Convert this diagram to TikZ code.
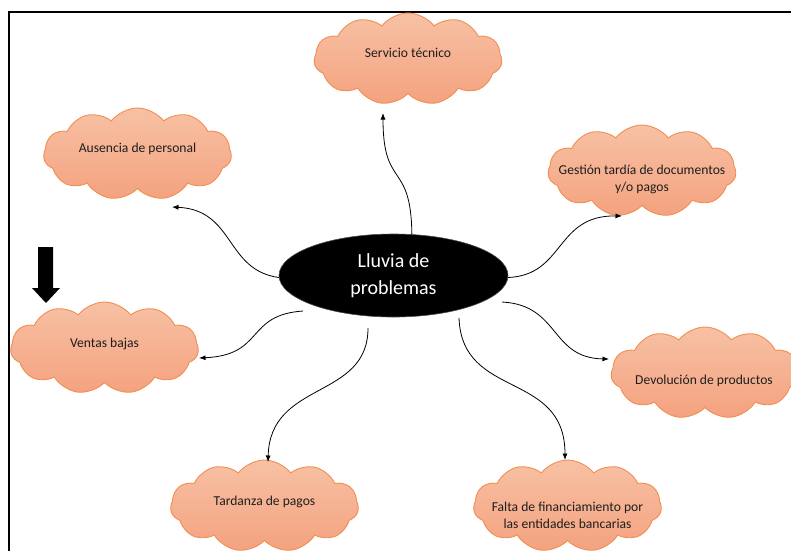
\documentclass[tikz,border=0pt]{standalone}
\usepackage{fontspec}
\setmainfont{Carlito}
\usetikzlibrary{shapes.symbols,shapes.geometric,arrows.meta}

\definecolor{puffTop}{HTML}{F7C1A4}
\definecolor{puffBot}{HTML}{F4A27F}
\definecolor{puffLine}{HTML}{F28E52}
\definecolor{labelInk}{HTML}{1E1E1E}

\tikzset{
  idea/.style={cloud, cloud puffs=11, cloud puff arc=105, aspect=2.1,
    minimum width=188pt, minimum height=92pt, inner sep=0pt,
    draw=puffLine, line width=0.9pt, top color=puffTop, bottom color=puffBot},
  ideatext/.style={font=\fontsize{13.6}{17}\selectfont, text=labelInk,
    align=center, inner sep=0pt},
  hub/.style={ellipse, fill=black, draw=black!70, line width=0.6pt,
    minimum width=229pt, minimum height=83pt, inner sep=0pt,
    text=white, align=center, font=\fontsize{20}{27}\selectfont},
  link/.style={line width=0.8pt, -{Latex[length=6.5pt,width=5pt]}},
}

\begin{document}
\begin{tikzpicture}[x=1pt,y=-1pt]
\useasboundingbox (0,0) rectangle (791,550);
\clip (0,0) rectangle (791,550);

% page frame
\draw[line width=1.4pt] (9,560) -- (9,12) -- (800,12);

% idea clouds
\node[idea] (srv) at (408,59) {};
\node[ideatext] (srvt) at (408,53) {Servicio técnico};

\node[idea] (aus) at (137.5,154) {};
\node[ideatext] (aust) at (137.5,149) {Ausencia de personal};

\node[idea] (ges) at (642,171) {};
\node[ideatext] (gest) at (642,179) {Gestión tardía de documentos\\y/o pagos};

\node[idea] (ven) at (104.5,348) {};
\node[ideatext] (vent) at (104.5,344) {Ventas bajas};

\node[idea] (dev) at (705,373) {};
\node[ideatext] (devt) at (704,381) {Devolución de productos};

\node[idea] (tar) at (264.5,506) {};
\node[ideatext] (tart) at (264.5,502) {Tardanza de pagos};

\node[idea] (fal) at (567.5,506) {};
\node[ideatext] (falt) at (567.5,515) {Falta de financiamiento por\\las entidades bancarias};

% central topic
\node[hub] (hub) at (393.5,275.5) {Lluvia de\\problemas};

% arrow tips and detached starts
\coordinate (tSrv) at (383,113);
\coordinate (tAus) at (172,207);
\coordinate (tGes) at (622,216);
\coordinate (tVen) at (199,358);
\coordinate (tTar) at (268,462);
\coordinate (tFal) at (565,460);
\coordinate (tDev) at (609,359);
\coordinate (sVen) at (303,311);
\coordinate (sTar) at (368,328);
\coordinate (sFal) at (459,318);
\coordinate (sDev) at (502,302);

% connectors
\draw[link] (hub.66) .. controls (411,160) and (383,190) .. (tSrv);
\draw[link] (hub.181) .. controls (225,270) and (235,210) .. (tAus);
\draw[link] (hub.359) .. controls (565,275) and (555,215) .. (tGes);
\draw[link] (sVen) .. controls (245,315) and (265,355) .. (tVen);
\draw[link] (sTar) .. controls (368,400) and (270,380) .. (tTar);
\draw[link] (sFal) .. controls (462,400) and (565,370) .. (tFal);
\draw[link] (sDev) .. controls (560,305) and (550,358) .. (tDev);

% block arrow on the left
\fill[black] (38,247) -- (53,247) -- (53,288) -- (60,288) -- (46,303)
  -- (32,288) -- (38,288) -- cycle;
\end{tikzpicture}
\end{document}
